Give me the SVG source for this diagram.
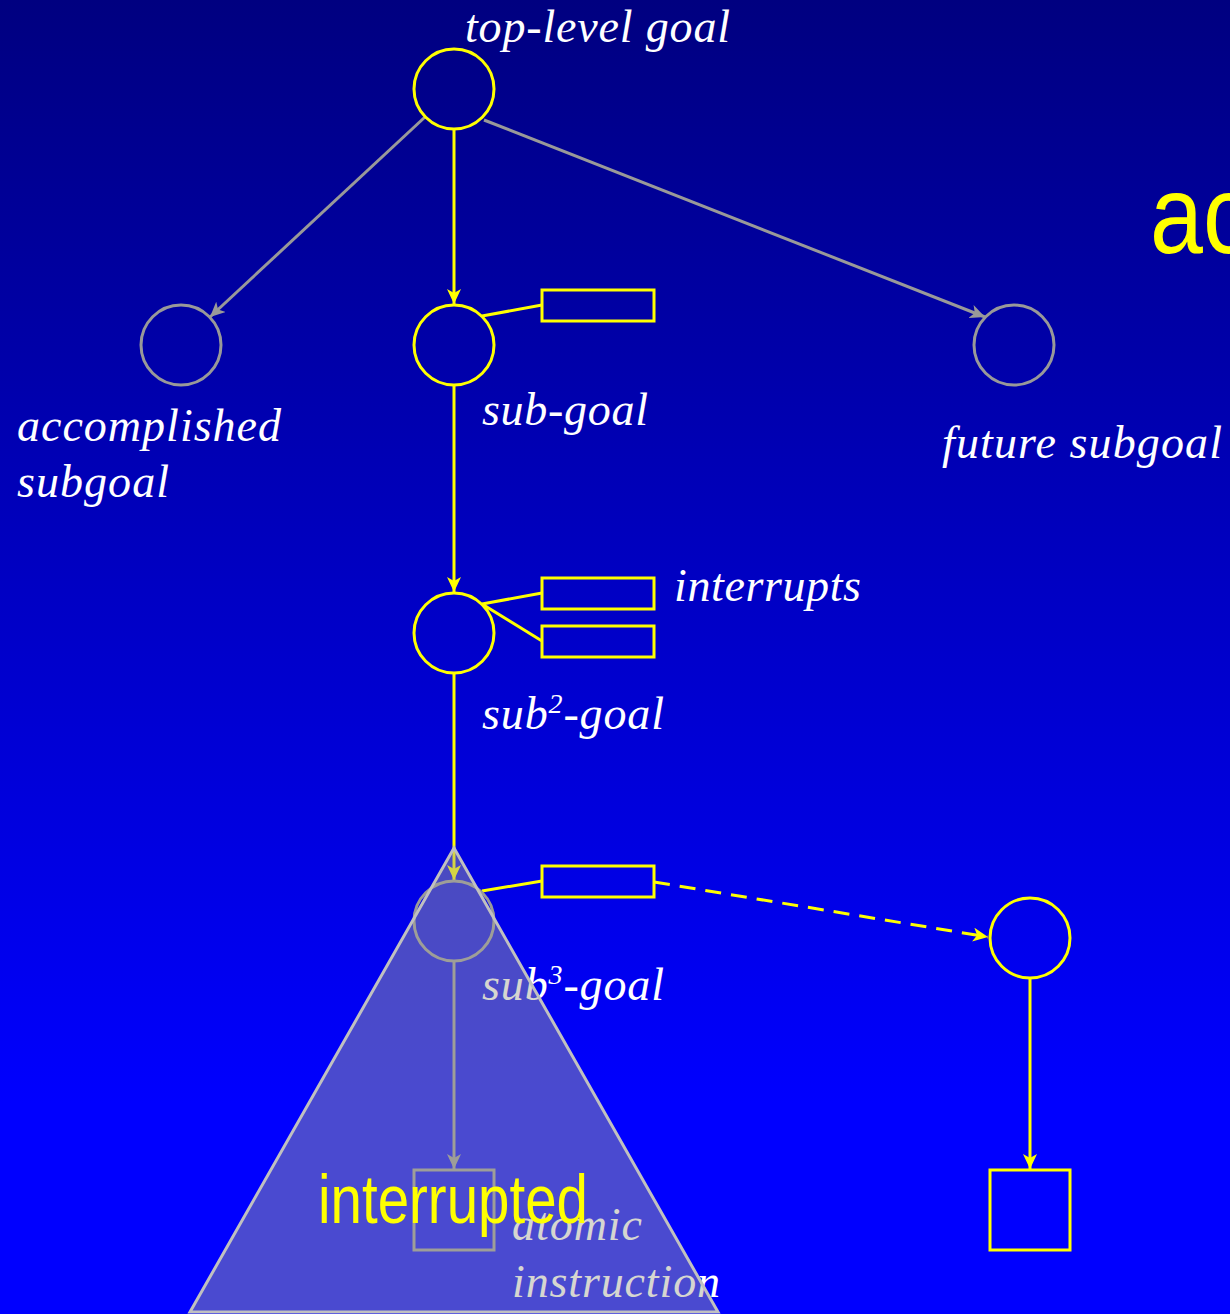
<svg xmlns="http://www.w3.org/2000/svg" width="1230" height="1314" viewBox="0 0 1230 1314">
<defs>
<linearGradient id="bg" x1="0" y1="0" x2="0" y2="1314" gradientUnits="userSpaceOnUse">
<stop offset="0" stop-color="#000080"/>
<stop offset="0.84" stop-color="#0000FF"/>
<stop offset="1" stop-color="#0000FF"/>
</linearGradient>
<marker id="ay" markerUnits="userSpaceOnUse" markerWidth="16" markerHeight="14" refX="15" refY="7" orient="auto">
<path d="M0,0 L15,7 L0,14 L4,7 z" fill="#FFFF00"/>
</marker>
<marker id="ag" markerUnits="userSpaceOnUse" markerWidth="16" markerHeight="14" refX="15" refY="7" orient="auto">
<path d="M0,0 L15,7 L0,14 L4,7 z" fill="#999999"/>
</marker>
<style>
.yc{fill:none;stroke:#FFFF00;stroke-width:3}
.gc{fill:none;stroke:#999999;stroke-width:3}
.yl{stroke:#FFFF00;stroke-width:3;fill:none}
.gl{stroke:#999999;stroke-width:3;fill:none}
.lab{font-family:"Liberation Serif","Times New Roman",serif;font-style:italic;font-size:46px;fill:#FFFFFF}
.sup{font-size:28px}
.big{font-family:"Liberation Sans",Arial,sans-serif;fill:#FFFF00}
</style>
</defs>
<rect x="0" y="0" width="1230" height="1314" fill="url(#bg)"/>

<text class="big" x="1150" y="253" font-size="112" transform="translate(1150,0) scale(0.85,1) translate(-1150,0)">ac</text>

<g id="connectors">
<line class="gl" x1="425" y1="117" x2="210" y2="317" marker-end="url(#ag)"/>
<line class="gl" x1="484" y1="120" x2="985" y2="317" marker-end="url(#ag)"/>
<line class="yl" x1="454" y1="129" x2="454" y2="304" marker-end="url(#ay)"/>
<line class="yl" x1="454" y1="385" x2="454" y2="592" marker-end="url(#ay)"/>
<line class="yl" x1="454" y1="673" x2="454" y2="880" marker-end="url(#ay)"/>
<line class="gl" x1="454" y1="961" x2="454" y2="1169" marker-end="url(#ag)"/>
<line class="yl" x1="1030" y1="978" x2="1030" y2="1169" marker-end="url(#ay)"/>
<line class="yl" x1="482" y1="316" x2="542" y2="305"/>
<line class="yl" x1="482" y1="604" x2="542" y2="593"/>
<line class="yl" x1="482" y1="604" x2="542" y2="641"/>
<line class="yl" x1="482" y1="891" x2="542" y2="881"/>
<line class="yl" x1="654" y1="882" x2="988" y2="937" stroke-dasharray="16,10" marker-end="url(#ay)"/>
</g>

<g id="top-goal">
<circle class="yc" cx="454" cy="89" r="40"/>
<text class="lab" x="465" y="42" textLength="265" lengthAdjust="spacing">top-level goal</text>
</g>
<g id="accomplished">
<circle class="gc" cx="181" cy="345" r="40"/>
<text class="lab" x="17" y="441" textLength="264" lengthAdjust="spacing">accomplished</text>
<text class="lab" x="17" y="497" textLength="152" lengthAdjust="spacing">subgoal</text>
</g>
<g id="sub-goal">
<circle class="yc" cx="454" cy="345" r="40"/>
<rect class="yc" x="542" y="290" width="112" height="31"/>
<text class="lab" x="482" y="425" textLength="166" lengthAdjust="spacing">sub-goal</text>
</g>
<g id="future">
<circle class="gc" cx="1014" cy="345" r="40"/>
<text class="lab" x="942" y="458" textLength="280" lengthAdjust="spacing">future subgoal</text>
</g>
<g id="sub2-goal">
<circle class="yc" cx="454" cy="633" r="40"/>
<rect class="yc" x="542" y="578" width="112" height="31"/>
<rect class="yc" x="542" y="626" width="112" height="31"/>
<text class="lab" x="674" y="601" textLength="187" lengthAdjust="spacing">interrupts</text>
<text class="lab" x="482" y="729" textLength="182" lengthAdjust="spacing">sub<tspan class="sup" dy="-16">2</tspan><tspan dy="16">-goal</tspan></text>
</g>
<g id="sub3-goal">
<circle class="gc" cx="454" cy="921" r="40"/>
<rect class="yc" x="542" y="866" width="112" height="31"/>
<text class="lab" x="482" y="1000" textLength="182" lengthAdjust="spacing">sub<tspan class="sup" dy="-16">3</tspan><tspan dy="16">-goal</tspan></text>
</g>
<g id="atomic">
<rect class="gc" x="414" y="1170" width="80" height="80"/>
<text class="lab" x="512" y="1240" textLength="130" lengthAdjust="spacing">atomic</text>
<text class="lab" x="512" y="1297" textLength="208" lengthAdjust="spacing">instruction</text>
</g>
<g id="new-goal">
<circle class="yc" cx="1030" cy="938" r="40"/>
</g>
<g id="new-instruction">
<rect class="yc" x="990" y="1170" width="80" height="80"/>
</g>

<g id="interrupted-region">
<polygon points="454,848 718,1312 190,1312" fill="rgb(165,165,150)" fill-opacity="0.45" stroke="#C0C0C0" stroke-width="3"/>
<text class="big" x="318" y="1223" font-size="68" textLength="270" lengthAdjust="spacingAndGlyphs">interrupted</text>
</g>
</svg>
